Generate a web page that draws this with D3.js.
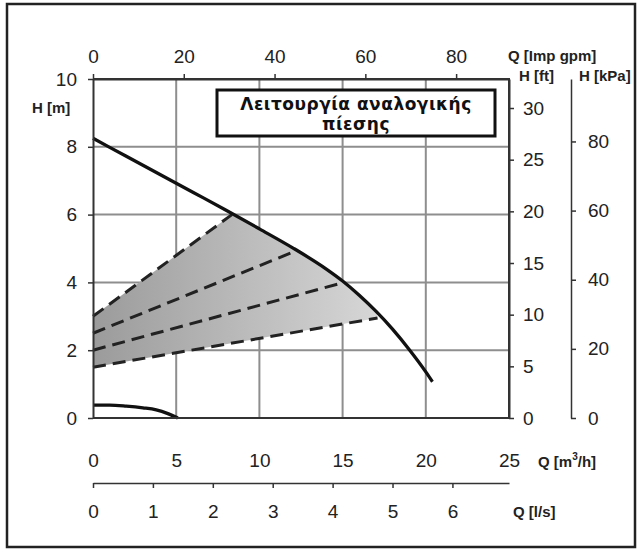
<!DOCTYPE html>
<html>
<head>
<meta charset="utf-8">
<script src="https://cdn.jsdelivr.net/npm/d3@7/dist/d3.min.js"></script>
<style>
  html, body { margin: 0; padding: 0; background: #fff; }
  svg { display: block; }
  .tick text { font-family: "Liberation Sans", Arial, sans-serif; font-size: 19px; fill: #222; }
  .albl { font-family: "Liberation Sans", Arial, sans-serif; font-size: 15px; font-weight: bold; fill: #222; }
</style>
</head>
<body>
<svg id="chart" width="641" height="551"></svg>
<script>
// ---------------- DATA ----------------
const qTicksM3h = [0, 5, 10, 15, 20, 25];
const hTicksM = [0, 2, 4, 6, 8, 10];
const qTicksGpm = [0, 20, 40, 60, 80];
const hTicksFt = [0, 5, 10, 15, 20, 25, 30];
const hTicksKpa = [0, 20, 40, 60, 80];
const qTicksLs = [0, 1, 2, 3, 4, 5, 6];

// Max curve (m3/h, m)
const maxCurveQ = [0, 2, 4, 6, 8, 10, 12, 14, 15, 16, 17, 18, 19, 20, 20.4];
const maxCurveH = [8.25, 7.72, 7.19, 6.66, 6.13, 5.58, 5.02, 4.40, 4.04, 3.62, 3.15, 2.62, 2.02, 1.36, 1.07];

// Min curve
const minCurveQ = [0, 1, 2, 3, 3.8, 4.5, 5.1];
const minCurveH = [0.38, 0.38, 0.35, 0.3, 0.24, 0.13, 0];

// Proportional pressure lines: start at Q=0, end on max curve
const propStartH = [3.0, 2.5, 2.0, 1.5];
const propEndQ = [8.35, 12.3, 15.1, 17.1];
const propEndH = [6.0, 4.95, 4.0, 2.95];

const titleLines = ["Λειτουργία αναλογικής", "πίεσης"];

// unit conversions
const GPM_PER_M3H = 3.666;
const FT_PER_M = 3.28084;
const KPA_PER_M = 9.80665;
const M3H_PER_LS = 3.6;

// ---------------- LAYOUT ----------------
const svg = d3.select("#chart");
const X0 = 93, X1 = 509, Y0 = 418, Y1 = 79;

const x = d3.scaleLinear().domain([0, 25]).range([X0, X1]);
const y = d3.scaleLinear().domain([0, 10]).range([Y0, Y1]);
const xGpm = d3.scaleLinear().domain([0, 25 * GPM_PER_M3H]).range([X0, X1]);
const yFt = d3.scaleLinear().domain([0, 10 * FT_PER_M]).range([Y0, Y1]);
const yKpa = d3.scaleLinear().domain([0, 10 * KPA_PER_M]).range([Y0, Y1]);
const xLs = d3.scaleLinear().domain([0, 25 / M3H_PER_LS]).range([X0, X1]);

svg.append("rect").attr("x", 0).attr("y", 0).attr("width", 641).attr("height", 551).attr("fill", "#fff");

// gradient
const defs = svg.append("defs");
const grad = defs.append("linearGradient").attr("id", "shade")
  .attr("gradientUnits", "userSpaceOnUse")
  .attr("x1", x(0)).attr("x2", x(17.5)).attr("y1", 0).attr("y2", 0);
grad.append("stop").attr("offset", 0).attr("stop-color", "#9b9b9b");
grad.append("stop").attr("offset", 1).attr("stop-color", "#d8d8d8");

// grid
const grid = svg.append("g");
grid.selectAll("line.v").data(qTicksM3h.filter(d => d > 0 && d < 25)).join("line")
  .attr("x1", d => x(d)).attr("x2", d => x(d)).attr("y1", y(0)).attr("y2", y(10))
  .attr("stroke", "#8e8e8e").attr("stroke-width", 2);
grid.selectAll("line.h").data(hTicksM.filter(d => d > 0 && d < 10)).join("line")
  .attr("x1", x(0)).attr("x2", x(25)).attr("y1", d => y(d)).attr("y2", d => y(d))
  .attr("stroke", "#8e8e8e").attr("stroke-width", 2);

// shaded region
const maxPts = maxCurveQ.map((q, i) => [q, maxCurveH[i]]);
const lastI = propStartH.length - 1;
const shadePts = [[0, propStartH[0]], [propEndQ[0], propEndH[0]]]
  .concat(maxPts.filter(p => p[0] > propEndQ[0] && p[0] < propEndQ[lastI]))
  .concat([[propEndQ[lastI], propEndH[lastI]], [0, propStartH[lastI]]]);
svg.append("path")
  .attr("d", d3.line().x(p => x(p[0])).y(p => y(p[1]))(shadePts) + "Z")
  .attr("fill", "url(#shade)").attr("stroke", "none");

// dashed lines
svg.append("g").selectAll("line").data(propStartH).join("line")
  .attr("x1", x(0)).attr("y1", d => y(d))
  .attr("x2", (d, i) => x(propEndQ[i])).attr("y2", (d, i) => y(propEndH[i]))
  .attr("stroke", "#222").attr("stroke-width", 3).attr("stroke-dasharray", "13,7");

// curves
const line = d3.line().x(p => x(p[0])).y(p => y(p[1])).curve(d3.curveMonotoneX);
svg.append("path").attr("d", line(maxPts))
  .attr("fill", "none").attr("stroke", "#111").attr("stroke-width", 3.3);
svg.append("path").attr("d", line(minCurveQ.map((q, i) => [q, minCurveH[i]])))
  .attr("fill", "none").attr("stroke", "#111").attr("stroke-width", 3.3);

// plot border (top/right/bottom)
svg.append("path")
  .attr("d", `M${x(0)},${y(10)}H${x(25)}V${y(0)}H${x(0)}`)
  .attr("fill", "none").attr("stroke", "#333").attr("stroke-width", 2);

function styleAxis(g) {
  g.selectAll(".domain").attr("stroke", "#333").attr("stroke-width", 2);
  g.selectAll(".tick line").attr("stroke", "#333").attr("stroke-width", 1.5);
  g.selectAll(".tick text").attr("fill", "#222");
}
const fmt = d3.format("d");

// left axis (m)
svg.append("g").attr("transform", `translate(${X0},0)`)
  .call(d3.axisLeft(y).tickValues(hTicksM).tickFormat(fmt).tickSize(5).tickSizeOuter(0).tickPadding(11))
  .call(styleAxis);

// top axis (Imp gpm)
svg.append("g").attr("transform", `translate(0,${Y1})`)
  .call(d3.axisTop(xGpm).tickValues(qTicksGpm).tickFormat(fmt).tickSize(5).tickSizeOuter(0).tickPadding(11))
  .call(styleAxis);

// right axis (ft)
svg.append("g").attr("transform", `translate(${X1},0)`)
  .call(d3.axisRight(yFt).tickValues(hTicksFt).tickFormat(fmt).tickSize(5).tickSizeOuter(0).tickPadding(9))
  .call(styleAxis);

// kPa axis
svg.append("g").attr("transform", `translate(571,0)`)
  .call(d3.axisRight(yKpa).tickValues(hTicksKpa).tickFormat(fmt).tickSize(5).tickSizeOuter(0).tickPadding(12))
  .call(styleAxis)
  .call(g => g.selectAll(".domain").attr("stroke-width", 1.5));

// bottom m3/h labels (no line)
svg.append("g").attr("transform", `translate(0,453)`)
  .call(d3.axisBottom(x).tickValues(qTicksM3h).tickFormat(fmt).tickSize(0).tickPadding(0))
  .call(g => g.select(".domain").remove())
  .call(g => g.selectAll(".tick line").remove());

// l/s axis
svg.append("g").attr("transform", `translate(0,483)`)
  .call(d3.axisBottom(xLs).tickValues(qTicksLs).tickFormat(fmt).tickSize(5).tickSizeOuter(0).tickPadding(17))
  .call(styleAxis)
  .call(g => g.selectAll(".domain").attr("stroke-width", 1.5));

// axis titles
const lbl = (tx, ty, t) => svg.append("text").attr("class", "albl").attr("x", tx).attr("y", ty).attr("dy", "0.35em").text(t);
lbl(32, 108, "H [m]");
lbl(508, 56, "Q [Imp gpm]");
lbl(519, 76, "H [ft]");
lbl(579, 76, "H [kPa]");
lbl(513, 512, "Q [l/s]");
const m3 = svg.append("text").attr("class", "albl").attr("x", 538).attr("y", 462).attr("dy", "0.35em");
m3.append("tspan").text("Q [m");
m3.append("tspan").attr("font-size", 10).attr("dy", -7).text("3");
m3.append("tspan").attr("dy", 7).text("/h]");

// title box
svg.append("rect").attr("x", 217).attr("y", 90).attr("width", 278).attr("height", 46)
  .attr("fill", "#fff").attr("stroke", "#111").attr("stroke-width", 3);
const tt = svg.append("g").attr("font-family", "'DejaVu Sans', sans-serif").attr("font-weight", "bold")
  .attr("fill", "#111").attr("letter-spacing", 0.5);
tt.append("text").attr("x", 356).attr("y", 110).attr("text-anchor", "middle").attr("font-size", 17).text(titleLines[0]);
tt.append("text").attr("x", 356).attr("y", 130).attr("text-anchor", "middle").attr("font-size", 17).text(titleLines[1]);

// outer frame
svg.append("rect").attr("x", 7).attr("y", 4).attr("width", 628).attr("height", 543)
  .attr("fill", "none").attr("stroke", "#222").attr("stroke-width", 2.5);
</script>
</body>
</html>
